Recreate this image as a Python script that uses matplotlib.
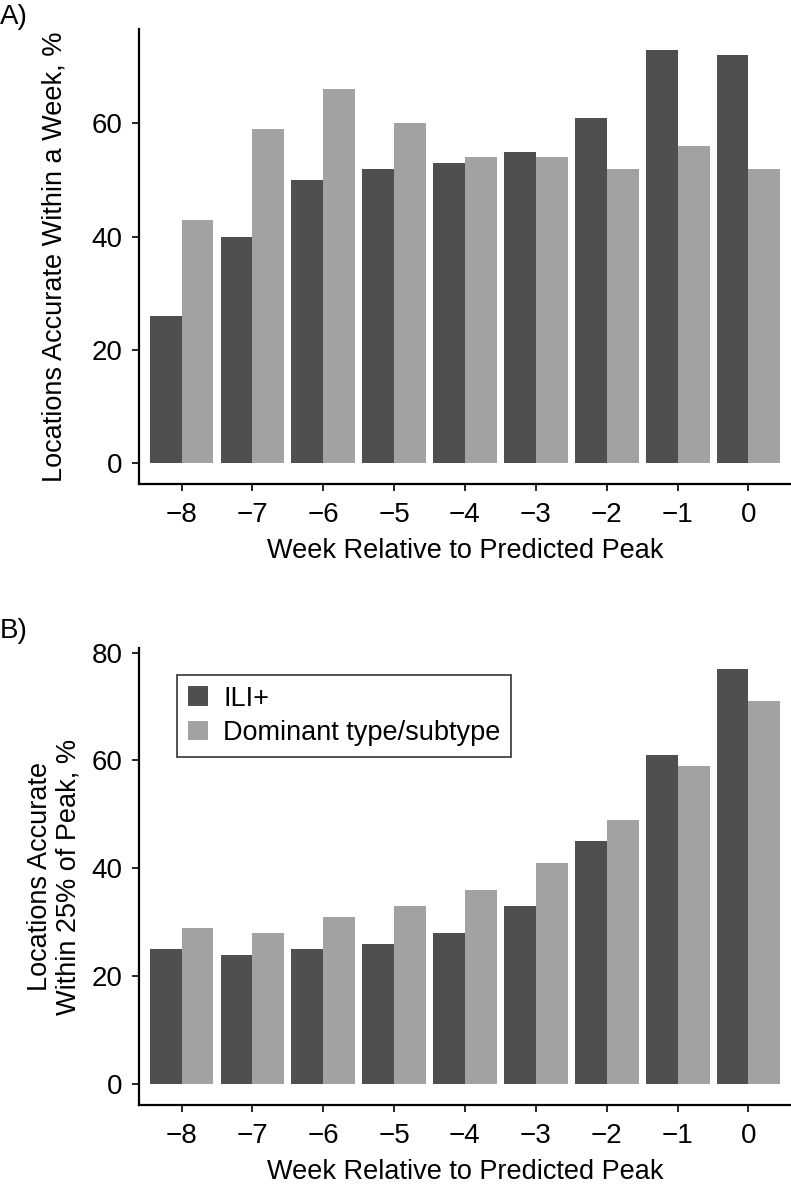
import numpy as np
import matplotlib
matplotlib.use("Agg")
import matplotlib.pyplot as plt

plt.rcParams["font.family"] = ["Liberation Sans", "DejaVu Sans"]

# ------------------------------------------------------------
# Data
# ------------------------------------------------------------
weeks = ["\u22128", "\u22127", "\u22126", "\u22125", "\u22124", "\u22123", "\u22122", "\u22121", "0"]
series_names = ["ILI+", "Dominant type/subtype"]

# Panel A : locations accurate within a week (%)
a_ili = [26, 40, 50, 52, 53, 55, 61, 73, 72]
a_dom = [43, 59, 66, 60, 54, 54, 52, 56, 52]

# Panel B : locations accurate within 25% of peak (%)
b_ili = [25, 24, 25, 26, 28, 33, 45, 61, 77]
b_dom = [29, 28, 31, 33, 36, 41, 49, 59, 71]

dark = "#4f4f4f"
light = "#a2a2a2"

W, H = 791, 1185
fig = plt.figure(figsize=(W / 100, H / 100), dpi=100)

def px_axes(left, top, right, bottom):
    return fig.add_axes([left / W, 1 - bottom / H, (right - left) / W, (bottom - top) / H])

ax_a = px_axes(139, 29, 791, 484)
ax_b = px_axes(139, 648, 791, 1105)


def draw_panel(ax, ili, dom, yticks, ylabel, ylabelpad, legend=False):
    x = np.arange(len(weeks))
    w = 0.45
    ax.bar(x - w / 2, ili, width=w, color=dark, label=series_names[0])
    ax.bar(x + w / 2, dom, width=w, color=light, label=series_names[1])

    top = max(max(ili), max(dom))
    pad = top * 0.05
    ax.set_ylim(-pad, top + pad)
    ax.set_xlim(-0.6, len(weeks) - 0.4)

    ax.set_xticks(x)
    ax.set_xticklabels(weeks)
    ax.set_yticks(yticks)

    for s in ["top", "right"]:
        ax.spines[s].set_visible(False)
    for s in ["left", "bottom"]:
        ax.spines[s].set_linewidth(1.6)
    ax.tick_params(axis="both", length=5, width=1.2, labelsize=20)
    ax.tick_params(axis="x", pad=8)
    ax.tick_params(axis="y", pad=7)

    ax.set_xlabel("Week Relative to Predicted Peak", fontsize=19.5, labelpad=7)
    ax.set_ylabel(ylabel, fontsize=19.5, labelpad=ylabelpad, linespacing=1.12)

    if legend:
        leg = ax.legend(loc="upper left", bbox_to_anchor=(177 / W, 1 - 675 / H),
                        bbox_transform=fig.transFigure, fontsize=19.5,
                        frameon=True, fancybox=False, borderpad=0.4,
                        handlelength=0.75, handleheight=0.75, handletextpad=0.55,
                        labelspacing=0.3, borderaxespad=0)
        leg.get_frame().set_edgecolor("black")
        leg.get_frame().set_linewidth(1.2)


draw_panel(ax_a, a_ili, a_dom, [0, 20, 40, 60],
           "Locations Accurate Within a Week, %", ylabelpad=17)
draw_panel(ax_b, b_ili, b_dom, [0, 20, 40, 60, 80],
           "Locations Accurate\nWithin 25% of Peak, %", ylabelpad=7, legend=True)

fig.text(0, 1 - 17 / H, "A)", fontsize=20, ha="left", va="center")
fig.text(0, 1 - 631 / H, "B)", fontsize=20, ha="left", va="center")

fig.savefig("out.png", dpi=100)
